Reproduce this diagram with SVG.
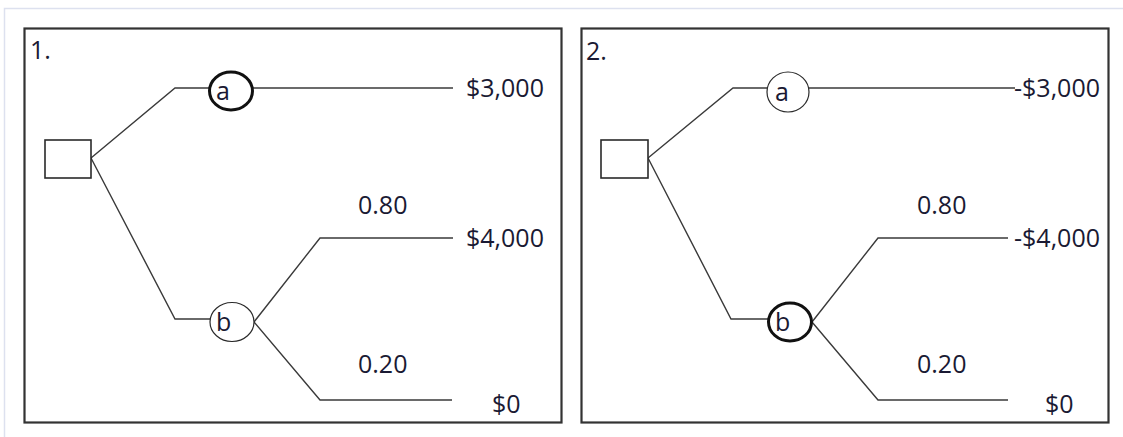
<svg xmlns="http://www.w3.org/2000/svg" width="1123" height="437" viewBox="0 0 1123 437">
<style>
.frame{fill:none;stroke:#dde1ef;stroke-width:1.5}
.panel{fill:#fff;stroke:#333;stroke-width:2.2}
.ln{fill:none;stroke:#3a3a3a;stroke-width:1.4}
.sq{fill:#fff;stroke:#2a2a2a;stroke-width:1.6}
.c{fill:#fff;stroke:#2a2a2a;stroke-width:1.2}
.ct{fill:#fff;stroke:#111;stroke-width:3}
text{font-family:"Open Sans","Noto Sans",sans-serif;font-size:25px;fill:#1a1a33}
</style>
<rect width="1123" height="437" fill="#fff"/>
<path class="frame" d="M4.5,437 V8.5 H1123"/>
<g id="panel1">
<rect class="panel" x="24.5" y="28.5" width="537" height="394"/>
<text x="30" y="59">1.</text>
</g>
<g id="panel2">
<rect class="panel" x="581.5" y="28.5" width="527" height="394"/>
<text x="586" y="60">2.</text>
</g>
<g id="connectors">
<path class="ln" d="M91,158 L175,88 H210"/>
<path class="ln" d="M253,88 H453"/>
<path class="ln" d="M91,158 L175,319 H210"/>
<path class="ln" d="M254,322 L320,238 H453"/>
<path class="ln" d="M254,322 L320,400 H452"/>
<path class="ln" d="M648,158 L733,88 H767"/>
<path class="ln" d="M809,88 H1015"/>
<path class="ln" d="M648,158 L731,319 H768"/>
<path class="ln" d="M812,322 L878,238 H1008"/>
<path class="ln" d="M812,322 L878,400 H1008"/>
</g>
<g id="p1-decision"><rect class="sq" x="45" y="140" width="46" height="38"/></g>
<g id="p1-a"><ellipse class="ct" cx="231" cy="91" rx="21.5" ry="19"/><text x="216" y="100">a</text></g>
<g id="p1-b"><ellipse class="c" cx="232" cy="322" rx="22" ry="19.5"/><text x="216" y="331">b</text></g>
<g id="p1-labels">
<text x="466" y="97">$3,000</text>
<text x="358" y="214">0.80</text>
<text x="466" y="247">$4,000</text>
<text x="358" y="373">0.20</text>
<text x="492" y="413">$0</text>
</g>
<g id="p2-decision"><rect class="sq" x="601" y="140" width="47" height="38"/></g>
<g id="p2-a"><ellipse class="c" cx="788" cy="92" rx="21" ry="20"/><text x="775" y="101">a</text></g>
<g id="p2-b"><ellipse class="ct" cx="790" cy="322" rx="21.5" ry="19"/><text x="775" y="331">b</text></g>
<g id="p2-labels">
<text x="1014" y="97">-$3,000</text>
<text x="917" y="214">0.80</text>
<text x="1014" y="247">-$4,000</text>
<text x="917" y="373">0.20</text>
<text x="1045" y="413">$0</text>
</g>
</svg>
